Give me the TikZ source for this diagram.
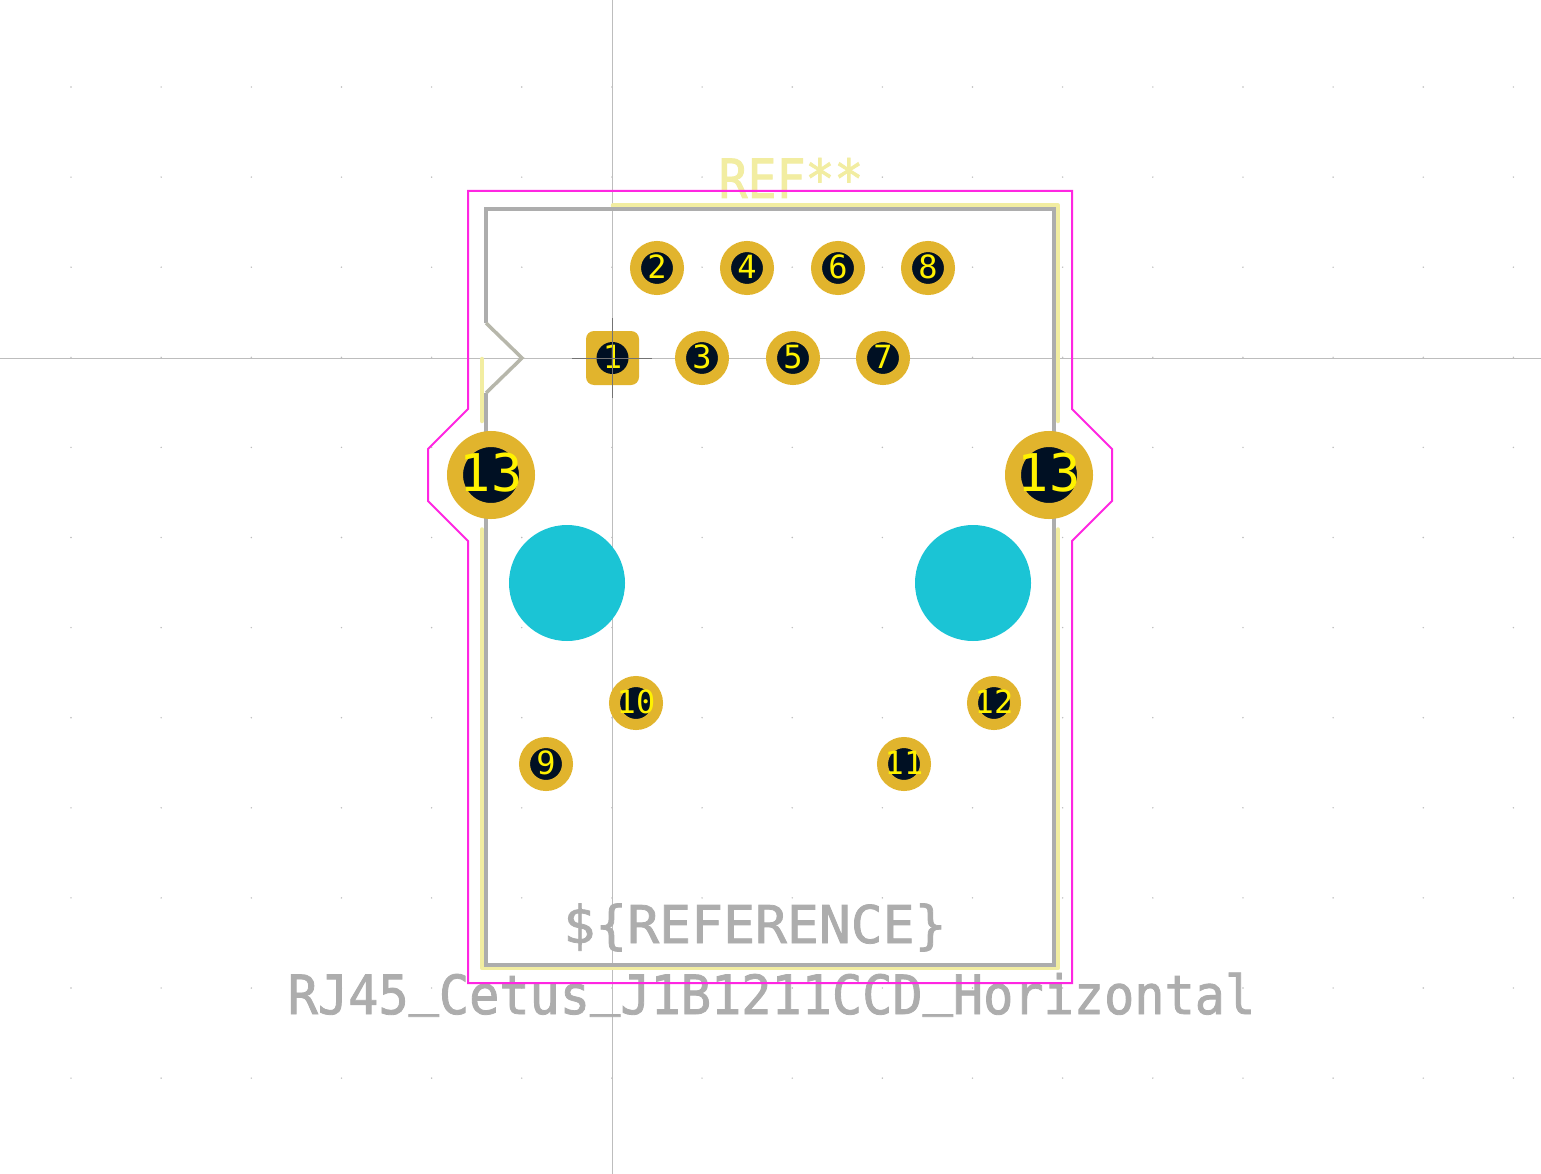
\documentclass[tikz,border=0pt]{standalone}
\usepackage{fontspec}
\newfontfamily\padfont{DejaVu Sans Mono}
\newfontfamily\silkfont[FakeStretch=0.89,FakeBold=1.5]{DejaVu Sans Mono}
\newfontfamily\valuefont[FakeStretch=0.93,FakeBold=1.5]{DejaVu Sans Mono}
\newfontfamily\fabfont[FakeStretch=1.02,FakeBold=1.5]{DejaVu Sans Mono}
\newcommand{\lowbar}{\raisebox{10pt}{\_}}
\definecolor{padgold}{HTML}{E1B42D}
\definecolor{drillblack}{HTML}{001023}
\definecolor{holecyan}{HTML}{1BC4D5}
\definecolor{silkyellow}{HTML}{F2EDA1}
\definecolor{fabgrey}{HTML}{ADADAD}
\definecolor{courtmagenta}{HTML}{FF26E2}
\definecolor{axisgrey}{HTML}{BDBDBD}
\tikzset{
  smallpad/.style={circle, draw=padgold, fill=drillblack, line width=11, minimum size=43,
    inner sep=-4, outer sep=0, text=yellow, text depth=2, font=\padfont\fontsize{32}{32}\selectfont},
  bigpad/.style={circle, draw=padgold, fill=drillblack, line width=16, minimum size=72,
    inner sep=-8, outer sep=0, text=yellow, text depth=5, font=\padfont\fontsize{52}{52}\selectfont},
  holecircle/.style={circle, fill=holecyan, minimum size=116, inner sep=0, outer sep=0},
  silkline/.style={draw=silkyellow, line width=4.5, line cap=round, line join=round},
  fabline/.style={draw=fabgrey, line width=4, line join=miter},
  fabtext/.style={anchor=base, text=fabgrey, inner sep=0, outer sep=0}
}
\begin{document}
\begin{tikzpicture}[x=1pt, y=-1pt]
  \useasboundingbox[fill=white] (0,0) rectangle (1541,1174);

  % Grid dots
  \foreach \i in {0,...,16} {
    \foreach \j in {0,...,11} {
      \fill[axisgrey] (71+90.15*\i, 87+90.1*\j) circle (0.8);
    }
  }

  % Axes
  \draw[axisgrey, line width=1] (612.5,0) -- (612.5,1174);
  \draw[axisgrey, line width=1] (0,358) -- (1541,358);

  % Silkscreen
  \draw[silkline] (613,205.5) -- (1058,205.5) -- (1058,421);
  \draw[silkline] (1058,529.5) -- (1058,968) -- (482,968) -- (482,529.5);
  \draw[silkline] (482,359) -- (482,421);
  \node[anchor=base, text=silkyellow, inner sep=0, font=\silkfont\fontsize{54}{54}\selectfont] (silkref) at (791,198) {REF**};

  % Fabrication outline
  \draw[fabline] (486,323) -- (486,209) -- (1054,209) -- (1054,965) -- (486,965) -- (486,393);
  \draw[draw=fabgrey!85!silkyellow, line width=3.5, line join=miter] (486,323) -- (522,358) -- (486,393);
  \node[fabtext, font=\fabfont\fontsize{52}{52}\selectfont] (fabref) at (755,943) {\$\{REFERENCE\}};
  \node[fabtext, font=\valuefont\fontsize{54}{54}\selectfont] (fabvalue) at (771.5,1014) {RJ45\lowbar Cetus\lowbar J1B1211CCD\lowbar Horizontal};

  % Courtyard
  \draw[courtmagenta, line width=2] (468,191) -- (1072,191) -- (1072,409) -- (1112,449) -- (1112,501)
    -- (1072,541) -- (1072,983) -- (468,983) -- (468,541) -- (428,501) -- (428,449) -- (468,409) -- cycle;

  % Mounting holes
  \node[holecircle] (holeleft) at (567,583) {};
  \node[holecircle] (holeright) at (973,583) {};

  % Pads
  \fill[padgold, rounded corners=8] (586,331) rectangle (639,385);
  \node[circle, fill=drillblack, minimum size=32, inner sep=-4, outer sep=0, text=yellow, text depth=2,
    font=\padfont\fontsize{32}{32}\selectfont] (pad1) at (612.5,358) {1};
  \node[smallpad] (pad2) at (657,268) {2};
  \node[smallpad] (pad3) at (702,358) {3};
  \node[smallpad] (pad4) at (747,268) {4};
  \node[smallpad] (pad5) at (793,358) {5};
  \node[smallpad] (pad6) at (838,268) {6};
  \node[smallpad] (pad7) at (883,358) {7};
  \node[smallpad] (pad8) at (928,268) {8};
  \node[smallpad] (pad9) at (546,764) {9};
  \node[smallpad] (pad10) at (636,703) {10};
  \node[smallpad] (pad11) at (904,764) {11};
  \node[smallpad] (pad12) at (994,703) {12};
  \node[bigpad] (pad13a) at (491,475) {13};
  \node[bigpad] (pad13b) at (1049,475) {13};

  % Anchor cross
  \draw[black!55, line width=1] (572,358) -- (652,358);
  \draw[black!55, line width=1] (612.5,318) -- (612.5,398);
\end{tikzpicture}
\end{document}
